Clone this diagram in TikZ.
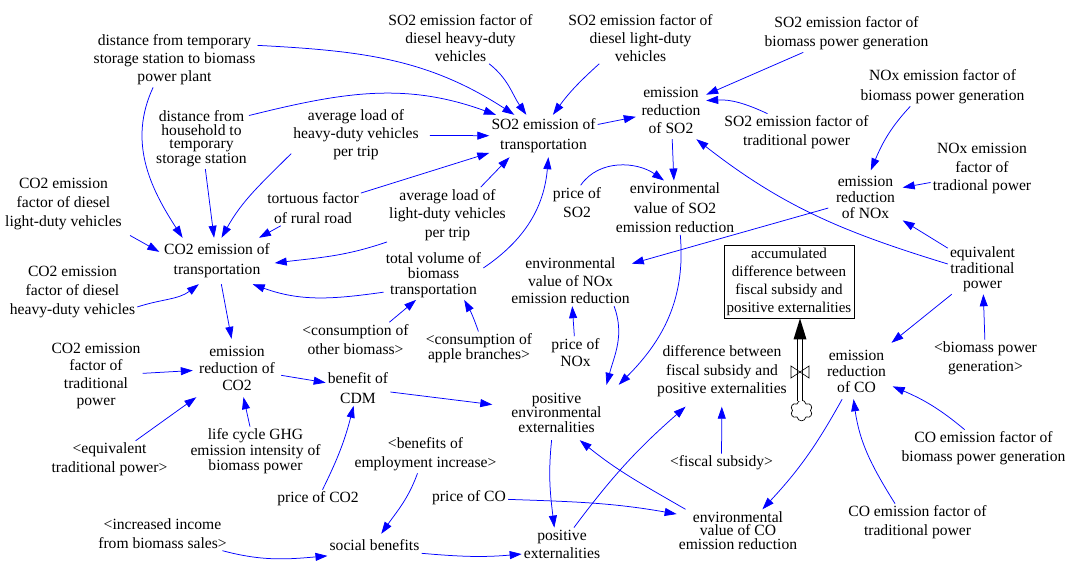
\documentclass[tikz,border=0pt]{standalone}
\usepackage{fontspec}
\setmainfont{Liberation Serif}
\usetikzlibrary{arrows.meta}
\begin{document}
\begin{tikzpicture}[x=1pt,y=1pt,
  v/.style={align=center, inner sep=2pt, font=\fontsize{15.6}{#1}\selectfont},
  v/.default=18,
  arr/.style={blue, line width=0.75pt, -{Triangle[length=12pt,width=8pt]}},
  puff/.style={out=#1-75, in=#1+255, looseness=1.5}]
\useasboundingbox (0,0) rectangle (1069,-562);

% ---- variables ----
\node[v] (dtemp) at (174.5,-60) {distance from temporary\\storage station to biomass\\power plant};
\node[v] (so2heavy) at (460.5,-38) {SO2 emission factor of\\diesel heavy-duty\\vehicles};
\node[v] (so2light) at (640.5,-38) {SO2 emission factor of\\diesel light-duty\\vehicles};
\node[v=19] (so2bio) at (846.5,-33.5) {SO2 emission factor of\\biomass power generation};
\node[v=20] (noxbio) at (942.5,-87) {NOx emission factor of\\biomass power generation};
\node[v, minimum width=70pt, minimum height=58pt] (erso2) at (671,-110) {emission\\reduction\\of SO2};
\node[v=19] (so2trad) at (796.5,-132.5) {SO2 emission factor of\\traditional power};
\node[v=20, minimum height=42pt] (so2trans) at (543.5,-136) {SO2 emission of\\transportation};
\node[v=13.6] (dhouse) at (201.5,-138.7) {distance from\\household to\\temporary\\storage station};
\node[v] (loadheavy) at (356,-135) {average load of\\heavy-duty vehicles\\per trip};
\node[v=18.7] (noxtrad) at (982,-168.7) {NOx emission\\factor of\\tradional power};
\node[v=16, minimum width=74pt, minimum height=54pt] (ernox) at (865.5,-197.5) {emission\\reduction\\of NOx};
\node[v=19] (priceso2) at (577,-202.5) {price of\\SO2};
\node[v=19.5] (envso2) at (675,-207.7) {environmental\\value of SO2\\emission reduction};
\node[v=19] (co2light) at (63.5,-204) {CO2 emission\\factor of diesel\\light-duty vehicles};
\node[v=20] (tortuous) at (313,-208) {tortuous factor\\of rural road};
\node[v=18.5] (loadlight) at (447.5,-215) {average load of\\light-duty vehicles\\per trip};
\node[v=20, minimum width=115pt, minimum height=46pt] (co2trans) at (217,-261) {CO2 emission of\\transportation};
\node[v=15.5] (totalvol) at (433.5,-275) {total volume of\\biomass\\transportation};
\node[v=17.5] (envnox) at (570.5,-281) {environmental\\value of NOx\\emission reduction};
\node[v, font=\fontsize{15}{18}\selectfont, draw=black, line width=0.8pt,
      minimum width=130pt, minimum height=73pt, inner sep=0pt] (accum) at (789,-281.5)
      {accumulated\\difference between\\fiscal subsidy and\\positive externalities};
\node[v=15.5] (equiv) at (982.5,-269.5) {equivalent\\traditional\\power};
\node[v=19] (co2heavy) at (72.5,-292) {CO2 emission\\factor of diesel\\heavy-duty vehicles};
\node[v=19] (consother) at (355.5,-339.5) {<consumption of\\other biomass>};
\node[v=13.5] (consapple) at (479,-348.3) {<consumption of\\apple branches>};
\node[v=17] (pricenox) at (575.5,-352.5) {price of\\NOx};
\node[v=18.5, minimum height=70pt] (diff) at (722,-371.5) {difference between\\fiscal subsidy and\\positive externalities};
\node[v=19] (biopower) at (985.5,-358.5) {<biomass power\\generation>};
\node[v=16, minimum width=72pt, minimum height=56pt] (erco) at (856.5,-371) {emission\\reduction\\of CO};
\node[v=17.3] (co2trad) at (96,-376) {CO2 emission\\factor of\\traditional\\power};
\node[v=17, minimum width=88pt, minimum height=58pt] (erco2) at (237,-368) {emission\\reduction of\\CO2};
\node[v=20] (cdm) at (358,-388) {benefit of\\CDM};
\node[v=14.5, minimum width=128pt, minimum height=55pt] (posenv) at (556.5,-412.5) {positive\\environmental\\externalities};
\node[v=19] (eqtrad) at (109.5,-459.5) {<equivalent\\traditional power>};
\node[v=15.5] (lifecycle) at (255.5,-451.5) {life cycle GHG\\emission intensity of\\biomass power};
\node[v=19] (benemp) at (425.5,-454.5) {<benefits of\\employment increase>};
\node[v] (fiscal) at (721.5,-463) {<fiscal subsidy>};
\node[v=19] (cobio) at (983.5,-448.5) {CO emission factor of\\biomass power generation};
\node[v] (priceco2) at (318,-499) {price of CO2};
\node[v] (priceco) at (469,-498) {price of CO};
\node[v=19] (income) at (162.5,-533.5) {<increased income\\from biomass sales>};
\node[v, minimum height=22pt] (social) at (374.5,-545) {social benefits};
\node[v] (posext) at (562,-544) {positive\\externalities};
\node[v=13.5] (envco) at (738,-530.5) {environmental\\value of CO\\emission reduction};
\node[v=19] (cotrad) at (917.5,-522.5) {CO emission factor of\\traditional power};

% ---- inflow into the stock: cloud, pipe, valve ----
% the cloud: six outward puffs between points of an ellipse (argument = chord angle)
\coordinate (src) at (801.5,-410.5);
\draw[line width=0.7pt, fill=white]
  ([shift={(9,0)}]src)
  to[puff=125] ([shift={(4.5,6.5)}]src)
  to[puff=180] ([shift={(-4.5,6.5)}]src)
  to[puff=235] ([shift={(-9,0)}]src)
  to[puff=305] ([shift={(-4.5,-6.5)}]src)
  to[puff=360] ([shift={(4.5,-6.5)}]src)
  to[puff=55]  ([shift={(9,0)}]src) -- cycle;
\coordinate (srctop) at ([shift={(-1.5,9.5)}]src);
\coordinate (inlet) at ([xshift=11pt]accum.south);
\coordinate (pipeend) at ([yshift=-21pt]inlet);
\coordinate (valve) at (800,-372);
\draw[line width=0.75pt, double=white, double distance=4.5pt] (srctop) -- (pipeend);
\fill (inlet) -- ([xshift=-6.5pt]pipeend) -- ([xshift=6.5pt]pipeend) -- cycle;
\draw[line width=0.6pt] ([shift={(-9,6)}]valve) -- ([shift={(-9,-6)}]valve)
  -- ([shift={(9,6)}]valve) -- ([shift={(9,-6)}]valve) -- cycle;

% ---- causal links ----
\draw[arr] (dtemp.10) to[out=-3,in=147] (so2trans.144);
\draw[arr] (dhouse.26) to[out=14,in=160] (so2trans.156);
\draw[arr] (dtemp.-128) to[out=-115,in=123] (co2trans.146);
\draw[arr] (dhouse) -- (co2trans);
\draw[arr] (loadheavy.-164) to[out=-135,in=61] (co2trans.79);
\draw[arr, shorten <=9pt] (loadheavy) -- (so2trans);
\draw[arr] (tortuous) -- (co2trans);
\draw[arr] (tortuous) -- (so2trans);
\draw[arr] (loadlight.40) -- (so2trans.-148);
\draw[arr] (loadlight.-156) to[out=-161,in=7] (co2trans.-2);
\draw[arr] (totalvol.8) to[out=34,in=-95] (so2trans.-77);
\draw[arr] (totalvol.-161) to[out=-172,in=-20] (co2trans.-33);
\draw[arr, shorten <=7pt] (co2light.south east) -- (co2trans.171);
\draw[arr] (co2heavy.-13) to[out=18,in=-143] (co2trans.-128);
\draw[arr] (co2trans) -- (erco2);
\draw[arr] (consother.27) -- (totalvol.-125);
\draw[arr] (consapple.92) to[bend right=5] (totalvol.-39);
\draw[arr] (so2heavy.-42) to[out=-38,in=125] (so2trans.129);
\draw[arr] (so2light.-148) to[out=-138,in=54] (so2trans.66);
\draw[arr] (so2trans.12) -- (erso2.-169);
\draw[arr] (so2bio) -- (erso2);
\draw[arr] (so2trad.147) to[out=155,in=3] (erso2.15);
\draw[arr] (erso2) -- (envso2);
\draw[arr] (priceso2.78) to[out=55,in=145] (envso2.112);
\draw[arr] (equiv.171) to[out=163,in=-38] (erso2.-49);
\draw[arr] (noxbio.-149) to[out=-133,in=67] (ernox.79);
\draw[arr] (noxtrad.-165) -- (ernox.15);
\draw[arr] (equiv) -- (ernox);
\draw[arr] (ernox) -- (envnox);
\draw[arr] (pricenox) -- (envnox);
\draw[arr] (envso2.-79) to[out=-85,in=45] (posenv.24);
\draw[arr] (envnox.-30) to[out=-70,in=75] (posenv.29);
\draw[arr] (biopower) -- (equiv);
\draw[arr] (equiv) -- (erco);
\draw[arr] (cobio.135) to[out=140,in=-23] (erco.-23);
\draw[arr] (cotrad.140) to[out=122,in=-82] (erco.-96);
\draw[arr] (erco.-117) to[out=-119,in=47] (envco.41);
\draw[arr] (priceco) to[out=-2,in=170] (envco.165);
\draw[arr] (envco.158) to[out=150,in=-39] (posenv.-50);
\draw[arr] (co2trad) -- (erco2);
\draw[arr] (eqtrad) -- (erco2);
\draw[arr] (lifecycle) -- (erco2);
\draw[arr] (erco2) -- (cdm);
\draw[arr] (priceco2) to[bend right=6] (cdm);
\draw[arr] (cdm) -- (posenv);
\draw[arr] (posenv.-100) to[out=-96,in=97] (posext.115);
\draw[arr] (benemp.-113) to[out=-110,in=55] (social.59);
\draw[arr] (income.-16) to[out=-15,in=185] (social.-167);
\draw[arr] (social.-10) to[out=-5,in=185] (posext.-166);
\draw[arr] (posext.54) to[bend left=6] (diff.-136);
\draw[arr] (fiscal) -- (diff);
\end{tikzpicture}
\end{document}
